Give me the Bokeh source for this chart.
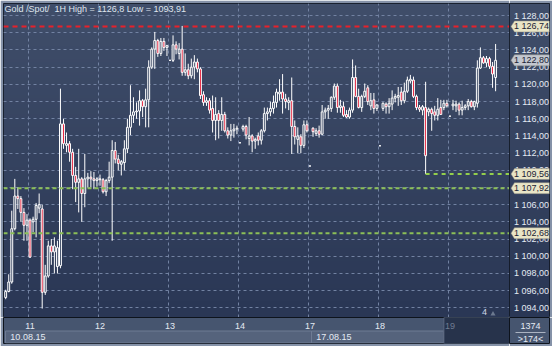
import numpy as np
from bokeh.plotting import figure
from bokeh.layouts import column, row
from bokeh.models import Range1d, FixedTicker, Span
from bokeh.embed import file_html
from bokeh.resources import INLINE
from bokeh.core.properties import value

# ---------------- data ----------------
title_text = "Gold /Spot/\u00a0 1H High = 1126,8 Low = 1093,91"

opens = [
    1095.2, 1095.9, 1097.0, 1103.2, 1107.0, 1106.7, 1105.1, 1103.6,
    1104.2, 1104.0, 1104.3, 1105.6, 1105.5, 1095.8, 1097.7, 1101.2, 1100.5, 1098.8, 1098.9, 1115.4, 1112.9, 1113.1, 1112.1, 1109.4, 1108.6, 1109.0, 1107.3, 1109.0, 1109.2, 1109.0, 1108.8,
    1109.0, 1108.9, 1107.5, 1108.8, 1109.2, 1112.3, 1111.3, 1110.7, 1110.9, 1112.5, 1115.0, 1116.4, 1116.8, 1116.9, 1118.1, 1117.4, 1118.2, 1122.0, 1124.1, 1125.1, 1123.6, 1125.0, 1124.3,
    1122.8, 1122.8, 1124.6, 1123.6, 1124.1, 1121.4, 1121.7, 1121.0, 1122.0, 1122.6, 1121.8, 1118.8, 1117.9, 1118.1, 1117.2, 1115.8, 1116.6, 1115.8, 1116.5, 1114.6, 1114.1, 1114.6, 1114.8,
    1113.2, 1114.8, 1115.1, 1113.7, 1114.0, 1113.4, 1114.0, 1113.5, 1114.6, 1116.6, 1116.8, 1117.2, 1117.9, 1118.9, 1119.1, 1118.3, 1117.9, 1118.1, 1115.1, 1113.6, 1113.9, 1112.9, 1115.3,
    1110.5, 1114.9, 1114.3, 1114.6, 1114.2, 1116.8, 1117.0, 1117.2, 1118.5, 1119.8, 1117.3, 1117.4, 1116.5, 1116.2, 1117.0, 1120.8, 1118.6, 1117.3, 1118.6, 1119.6, 1117.5, 1118.2, 1117.2,
    1112.85, 1117.2, 1117.7, 1117.4, 1117.7, 1118.4, 1118.5, 1119.1, 1118.1, 1119.2, 1120.4, 1120.5, 1118.6, 1117.3, 1117.0, 1117.3, 1116.8, 1117.1, 1116.8, 1116.4, 1117.3, 1117.3, 1117.8,
    1116.3, 1117.5, 1117.5, 1117.7, 1117.0, 1117.3, 1117.5, 1118.0, 1117.4, 1117.8, 1121.9, 1123.1, 1122.5, 1123.0, 1122.1, 1120.8,
]
highs = [
    1096.1, 1097.9, 1105.3, 1109.0, 1108.0, 1107.0, 1105.6, 1104.9,
    1104.4, 1104.6, 1106.2, 1107.3, 1106.0, 1099.0, 1101.8, 1102.0, 1102.2, 1101.8, 1119.5, 1116.0, 1114.4, 1113.4, 1112.5, 1110.4, 1112.5, 1109.2, 1111.9, 1109.7, 1109.9, 1109.8, 1109.2,
    1109.5, 1109.1, 1109.0, 1111.0, 1113.5, 1113.3, 1111.8, 1111.2, 1113.5, 1116.0, 1119.9, 1118.5, 1117.9, 1119.3, 1118.3, 1119.5, 1122.8, 1124.3, 1126.1, 1125.3, 1125.4, 1125.4, 1124.6,
    1122.8, 1125.7, 1125.0, 1124.8, 1126.8, 1123.6, 1122.4, 1123.0, 1123.4, 1123.0, 1122.0, 1119.2, 1118.5, 1118.4, 1118.7, 1118.5, 1117.0, 1118.5, 1116.8, 1115.0, 1115.4, 1115.4, 1115.2,
    1113.2, 1115.3, 1115.3, 1116.2, 1114.2, 1113.8, 1114.4, 1114.8, 1117.3, 1117.3, 1118.0, 1118.7, 1119.5, 1120.6, 1121.2, 1118.9, 1118.5, 1120.8, 1115.8, 1115.0, 1114.2, 1115.8, 1115.8,
    1110.5, 1115.0, 1114.9, 1115.2, 1117.6, 1117.3, 1117.6, 1118.6, 1120.1, 1120.1, 1118.2, 1118.0, 1117.0, 1117.3, 1122.9, 1122.2, 1119.5, 1118.8, 1120.1, 1119.9, 1119.0, 1119.0, 1117.7,
    1112.85, 1117.9, 1117.9, 1118.4, 1119.3, 1118.9, 1119.7, 1119.7, 1120.2, 1120.9, 1121.1, 1120.9, 1118.8, 1117.6, 1117.6, 1120.3, 1117.3, 1117.3, 1117.5, 1118.4, 1118.2, 1118.2, 1118.2,
    1116.3, 1118.2, 1118.1, 1117.9, 1118.1, 1117.7, 1118.3, 1118.2, 1118.1, 1122.8, 1124.3, 1123.3, 1123.3, 1123.2, 1122.6, 1124.7,
]
lows = [
    1095.0, 1095.8, 1096.8, 1103.0, 1105.5, 1104.0, 1101.8, 1101.8,
    1099.8, 1102.8, 1102.2, 1105.0, 1093.91, 1095.5, 1097.5, 1099.0, 1098.0, 1098.0, 1098.6, 1112.5, 1112.1, 1111.0, 1107.8, 1106.3, 1105.1, 1104.0, 1105.7, 1108.0, 1108.0, 1107.8, 1108.1,
    1108.2, 1107.3, 1107.0, 1108.5, 1101.8, 1110.8, 1110.0, 1109.4, 1110.0, 1112.0, 1114.1, 1115.5, 1116.0, 1115.2, 1116.2, 1115.0, 1115.0, 1121.8, 1121.8, 1123.2, 1123.3, 1123.9, 1123.3,
    1122.8, 1122.6, 1123.5, 1122.9, 1121.0, 1121.0, 1120.6, 1120.7, 1120.6, 1121.4, 1118.3, 1117.5, 1117.5, 1116.6, 1114.4, 1113.5, 1113.7, 1114.6, 1114.4, 1113.7, 1113.4, 1113.8, 1114.2,
    1113.2, 1114.5, 1113.6, 1112.9, 1112.1, 1112.5, 1112.9, 1113.0, 1114.4, 1115.8, 1116.3, 1116.6, 1117.3, 1118.1, 1116.6, 1117.2, 1117.0, 1111.9, 1113.0, 1112.0, 1112.0, 1112.6, 1114.4,
    1110.5, 1113.9, 1114.0, 1113.8, 1114.1, 1116.0, 1116.0, 1116.8, 1118.2, 1116.7, 1116.7, 1116.2, 1116.1, 1116.0, 1116.7, 1118.5, 1117.2, 1116.8, 1118.4, 1117.6, 1117.0, 1116.6, 1116.9,
    1112.85, 1116.9, 1116.6, 1116.6, 1117.0, 1117.9, 1117.5, 1117.6, 1117.8, 1119.0, 1120.1, 1118.4, 1117.0, 1116.8, 1116.4, 1109.56, 1116.3, 1114.6, 1115.8, 1115.8, 1116.6, 1117.0, 1117.3,
    1116.3, 1117.0, 1116.8, 1116.4, 1116.4, 1117.0, 1117.0, 1117.3, 1117.0, 1117.3, 1121.8, 1122.4, 1122.0, 1121.8, 1119.6, 1119.2,
]
closes = [
    1095.9, 1097.0, 1103.2, 1107.0, 1106.7, 1105.1, 1103.6, 1104.2,
    1099.9, 1104.3, 1105.9, 1106.0, 1095.8, 1097.7, 1101.2, 1100.5, 1101.2, 1101.0, 1115.4, 1113.1, 1113.1, 1112.1, 1109.4, 1108.6, 1109.0, 1107.3, 1109.0, 1109.2, 1109.0, 1108.8, 1109.0,
    1108.9, 1107.5, 1108.8, 1109.2, 1112.3, 1111.3, 1110.8, 1111.0, 1112.5, 1115.0, 1116.4, 1116.8, 1116.9, 1118.1, 1117.4, 1118.2, 1122.0, 1124.1, 1125.1, 1123.6, 1125.0, 1124.3, 1124.5,
    1122.8, 1124.6, 1124.1, 1124.1, 1121.4, 1121.7, 1121.0, 1122.0, 1122.6, 1121.8, 1118.7, 1117.9, 1118.1, 1117.0, 1115.8, 1116.5, 1115.8, 1116.5, 1114.6, 1114.1, 1114.6, 1114.8, 1114.9,
    1113.2, 1115.1, 1114.1, 1114.0, 1113.4, 1113.6, 1113.5, 1114.6, 1116.6, 1116.8, 1117.2, 1117.9, 1119.1, 1119.1, 1118.3, 1118.0, 1118.1, 1115.1, 1113.9, 1114.0, 1112.9, 1115.3, 1114.6,
    1110.5, 1114.5, 1114.6, 1114.2, 1116.8, 1117.0, 1117.2, 1118.5, 1119.8, 1117.3, 1117.5, 1116.4, 1116.2, 1117.0, 1120.8, 1118.6, 1117.3, 1118.6, 1119.2, 1118.0, 1118.1, 1117.2, 1117.6,
    1112.85, 1117.8, 1117.4, 1117.8, 1118.4, 1118.6, 1118.7, 1118.1, 1119.2, 1120.5, 1120.6, 1118.6, 1117.3, 1117.1, 1117.4, 1111.7, 1117.1, 1116.6, 1116.4, 1117.1, 1116.5, 1117.8, 1117.5,
    1116.3, 1117.7, 1117.7, 1117.0, 1117.3, 1117.5, 1118.0, 1117.4, 1118.0, 1121.9, 1123.1, 1122.5, 1123.0, 1122.1, 1121.2, 1122.8,
]

day_starts = [8, 31, 54, 77, 100, 123, 146]
day_labels = ["11", "12", "13", "14", "17", "18", "19"]
date_labels = ["10.08.15", "17.08.15"]
price_ticks = list(range(1094, 1129, 2))
red_level = 1126.74
green_levels = [1107.92, 1102.68]
support_level = 1109.56
tag_levels = [1126.74, 1109.56, 1107.92, 1102.68]
corner_top = "1374"
corner_bottom = ">174<"
marker_text = "4"

# ---------------- geometry / style ----------------
FONT = "Liberation Sans"
FS = "9px"
OUTER = "#8592a8"
EDGE = "#0d131c"
TXT = "#e4eaf3"
PX_PER_BAR = 3.043
FRAME_L, FRAME_R, FRAME_T, FRAME_B = 3, 509, 3, 317
FIRST_DAY_PX = 28

x_start = day_starts[0] - (FIRST_DAY_PX - FRAME_L) / PX_PER_BAR
x_end = x_start + (FRAME_R - FRAME_L) / PX_PER_BAR
y_start, y_end = 1092.87, 1129.41


def px_x(px):
    return x_start + (px - FRAME_L) / PX_PER_BAR


def py_y(py):
    return y_end - (py - FRAME_T) * (y_end - y_start) / (FRAME_B - FRAME_T)


def fmt(v):
    return f"{v:,.2f}".replace(",", " ").replace(".", ",")


def gradient(top, bottom, rows=96):
    t = np.linspace(0.0, 1.0, rows)[:, None]
    rgb = np.array(bottom, float) + (np.array(top, float) - np.array(bottom, float)) * t
    img = np.empty((rows, 1), dtype=np.uint32)
    v = img.view(dtype=np.uint8).reshape((rows, 1, 4))
    v[:, 0, 0] = rgb[:, 0]
    v[:, 0, 1] = rgb[:, 1]
    v[:, 0, 2] = rgb[:, 2]
    v[:, 0, 3] = 255
    return img


GRAD = gradient((64, 78, 106), (42, 55, 85))

xr = Range1d(x_start, x_end)
yr = Range1d(y_start, y_end)

# ---------------- main chart ----------------
p = figure(width=509, height=317, x_range=xr, y_range=yr,
           x_axis_location=None, y_axis_location=None,
           toolbar_location=None, output_backend="svg",
           min_border=0, min_border_left=3, min_border_top=3)
p.border_fill_color = OUTER
p.background_fill_color = "#35435e"
p.outline_line_color = EDGE
p.image_rgba(image=[GRAD], x=x_start, y=y_start, dw=x_end - x_start,
             dh=y_end - y_start, level="image")

p.xgrid.ticker = FixedTicker(ticks=day_starts)
p.ygrid.ticker = FixedTicker(ticks=price_ticks)
for g in (p.xgrid, p.ygrid):
    g.grid_line_color = "#7282a2"
    g.grid_line_dash = "3 3"
    g.grid_line_width = 1

n = len(closes)
xs = [i + 0.5 for i in range(n)]
up = [i for i in range(n) if closes[i] >= opens[i]]
dn = [i for i in range(n) if closes[i] < opens[i]]

p.segment(x0=xs, y0=lows, x1=xs, y1=highs, line_color="white", line_width=1)
p.vbar(x=[xs[i] for i in up], top=[closes[i] for i in up], bottom=[opens[i] for i in up],
       width=0.62, fill_color="#394762", line_color="white", line_width=1)
p.vbar(x=[xs[i] for i in dn], top=[opens[i] for i in dn], bottom=[closes[i] for i in dn],
       width=0.62, fill_color="#e3122f", line_color="white", line_width=1)

p.add_layout(Span(location=red_level, dimension="width", line_color="#e8202a",
                  line_width=2, line_dash="5 4"))
for lv in green_levels:
    p.add_layout(Span(location=lv, dimension="width", line_color="#8cbf57",
                      line_width=2, line_dash="4 3"))
support_i = lows.index(support_level)
p.segment(x0=[xs[support_i]], y0=[support_level], x1=[x_end], y1=[support_level],
          line_color="#93cf4c", line_width=2, line_dash="4 4")

p.text(x=[px_x(4)], y=[py_y(8.5)], text=[title_text], text_font=value(FONT),
       text_font_size=FS, text_color="#dfe5ee", text_align="left", text_baseline="middle")
p.text(x=[px_x(484)], y=[py_y(311)], text=[marker_text], text_font=value(FONT),
       text_font_size=FS, text_color="#cfd9e8", text_align="center", text_baseline="middle")
p.scatter(x=[px_x(492.5)], y=[py_y(313.5)], marker="triangle", size=5,
          fill_color="#6c798f", line_color=None)

# ---------------- right price panel ----------------
r = figure(width=43, height=317, x_range=Range1d(0, 40), y_range=yr,
           x_axis_location=None, y_axis_location=None,
           toolbar_location=None, output_backend="svg",
           min_border=0, min_border_top=3, min_border_right=3)
r.grid.visible = False
r.border_fill_color = OUTER
r.background_fill_color = "#35435e"
r.outline_line_color = EDGE
r.image_rgba(image=[GRAD], x=0, y=y_start, dw=40, dh=y_end - y_start, level="image")
r.text(x=[39.5] * len(price_ticks), y=price_ticks, text=[fmt(v) for v in price_ticks],
       text_font=value(FONT), text_font_size=FS, text_color=TXT,
       text_align="right", text_baseline="middle")

half = 5.5 * (y_end - y_start) / (FRAME_B - FRAME_T)
tags = tag_levels + [closes[-1]]
tag_fill = ["#e9e5c6"] * len(tag_levels) + ["#c3c7cf"]
r.patches(xs=[[1.5, 5.0, 40, 40, 5.0] for _ in tags],
          ys=[[v, v + half, v + half, v - half, v - half] for v in tags],
          fill_color=tag_fill, line_color="#8d8c80", line_width=0.5)
r.text(x=[39.5] * len(tags), y=tags, text=[fmt(v) for v in tags],
       text_font=value(FONT), text_font_size=FS, text_color="#1b2336",
       text_align="right", text_baseline="middle")

# ---------------- bottom time axis ----------------
b = figure(width=509, height=29, x_range=xr, y_range=Range1d(0, 26),
           x_axis_location=None, y_axis_location=None,
           toolbar_location=None, output_backend="svg",
           min_border=0, min_border_left=3, min_border_bottom=3)
b.grid.visible = False
b.border_fill_color = OUTER
b.background_fill_color = "#46556f"
b.outline_line_color = EDGE
box_l = [px_x(5), day_starts[4] + 1]
box_r = [day_starts[4] + 1, day_starts[6] - 1.5]
b.quad(left=box_l, right=box_r, bottom=0.5, top=12.5,
       fill_color="#55637c", line_color="#6f7c93", line_width=1)
b.quad(left=[day_starts[6] - 1.5], right=[x_end], bottom=[0], top=[26],
       fill_color="#27334b", line_color="#5d6a80", line_width=1)
b.text(x=[d + 0.5 for d in day_starts], y=[17.5] * len(day_starts), text=day_labels,
       text_font=value(FONT), text_font_size=FS,
       text_color=[TXT] * (len(day_labels) - 1) + ["#6f7c92"],
       text_align="center", text_baseline="middle")
b.text(x=[bl + 1.6 for bl in box_l], y=[6.5, 6.5], text=date_labels,
       text_font=value(FONT), text_font_size=FS, text_color=TXT,
       text_align="left", text_baseline="middle")

# ---------------- bottom-right corner ----------------
c = figure(width=43, height=29, x_range=Range1d(0, 40), y_range=Range1d(0, 26),
           x_axis_location=None, y_axis_location=None,
           toolbar_location=None, output_backend="svg",
           min_border=0, min_border_right=3, min_border_bottom=3)
c.grid.visible = False
c.border_fill_color = OUTER
c.background_fill_color = "#46556f"
c.outline_line_color = EDGE
c.text(x=[21, 21], y=[18, 5], text=[corner_top, corner_bottom],
       text_font=value(FONT), text_font_size=FS, text_color=TXT,
       text_align="center", text_baseline="middle")
c.segment(x0=[6], y0=[11], x1=[36], y1=[11], line_color="#aab3c2", line_width=1)

layout = column(row(p, r), row(b, c))
open("out.html", "w").write(file_html(layout, INLINE))
